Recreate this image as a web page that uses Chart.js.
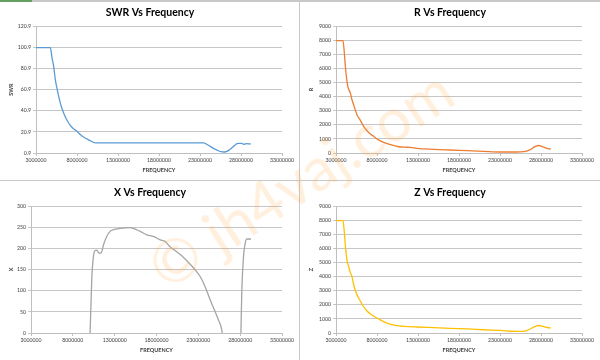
<!DOCTYPE html>
<html><head><meta charset="utf-8">
<script src="https://cdn.jsdelivr.net/npm/chart.js@4.4.0/dist/chart.umd.min.js"></script>
<style>
html,body{margin:0;padding:0;background:#fff;}
#wrap{position:relative;width:600px;height:360px;overflow:hidden;background:#fff;}
.panel{position:absolute;width:300px;height:180px;}
.panel canvas{display:block;}
.ln{position:absolute;background:#c8c8c8;}
#wm{position:absolute;left:300px;top:178px;transform:translate(-50%,-50%) rotate(-33deg);font:60px Lato, "Liberation Sans", sans-serif;color:rgba(255,160,50,0.17);white-space:nowrap;pointer-events:none;}
</style></head><body>
<div id="wrap">
  <div class="panel" style="left:0;top:0"><canvas id="cSwr" width="300" height="180"></canvas></div>
  <div class="panel" style="left:300px;top:0"><canvas id="cR" width="300" height="180"></canvas></div>
  <div class="panel" style="left:0;top:180px"><canvas id="cX" width="300" height="180"></canvas></div>
  <div class="panel" style="left:300px;top:180px"><canvas id="cZ" width="300" height="180"></canvas></div>
  <div class="ln" style="left:0;top:0;width:600px;height:2px"></div>
  <div style="position:absolute;left:0;top:0;width:32px;height:2px;background:#62a060"></div>
  <div class="ln" style="left:299px;top:0;width:1px;height:360px"></div>
  <div class="ln" style="left:0;top:180px;width:600px;height:1px"></div>
  <div id="wm">© jh4vaj.com</div>
</div>
<script>
// ---- data (frequency in MHz) ----
const xTickValues = [3000000, 8000000, 13000000, 18000000, 23000000, 28000000, 33000000];
const xTickLabels = ['3000000','8000000','13000000','18000000','23000000','28000000','33000000'];

const swrTickValues = [0.9, 20.9, 40.9, 60.9, 80.9, 100.9, 120.9];
const swrTickLabels = ['0.9','20.9','40.9','60.9','80.9','100.9','120.9'];
const rzTickValues = [0,1000,2000,3000,4000,5000,6000,7000,8000,9000];
const rzTickLabels = ['0','1000','2000','3000','4000','5000','6000','7000','8000','9000'];
const xrTickValues = [0,50,100,150,200,250,300];
const xrTickLabels = ['0','50','100','150','200','250','300'];

const swrFreqMHz = [3.0,3.5,4.0,4.5,4.75,4.95,5.15,5.36,5.56,5.76,5.97,6.17,6.37,6.78,7.2,7.6,8.0,8.4,8.8,9.2,9.6,10.0,10.2,11,13,15,17,19,21,23,23.45,23.8,24.2,24.7,25.3,25.6,25.9,26.2,26.5,26.8,27.1,27.5,27.8,28.1,28.3,28.5,28.7,29.0,29.2];
const swrValues  = [100.5,100.5,100.5,100.5,100.4,91,83,70,62,54.6,48,43,38.8,31.8,26.8,23.6,21.4,18.3,16,14.2,12.6,11,10.4,10.4,10.4,10.4,10.4,10.4,10.4,10.4,10.4,9.2,7.4,5,2.8,2.1,1.85,2.3,3.4,5.2,7.2,9.7,10,10,9.1,9.4,9.7,9.5,9.4];

const rFreqMHz = [3.0,3.5,3.85,4.02,4.14,4.34,4.46,4.75,4.95,5.15,5.56,5.97,6.37,6.78,7.19,7.6,8.0,8.8,9.63,10.44,10.85,11.5,12.07,12.88,14.9,16.9,19.0,21.0,23.0,25.0,25.9,26.3,26.7,27.1,27.4,27.7,28.1,28.4,28.7,29.2];
const rValues  = [7960,7960,7960,7070,6130,5070,4670,4240,3770,3420,2710,2310,1885,1580,1345,1180,990,754,590,471,424,410,400,330,260,212,165,118,71,71,94,150,236,400,490,530,471,400,330,283];

const zFreqMHz = [3.0,3.5,3.85,4.02,4.14,4.34,4.54,4.75,4.95,5.15,5.56,5.97,6.37,6.78,7.19,7.6,8.0,9.2,10.44,11.3,12.9,14.9,16.9,19.0,21.0,23.0,25.0,25.9,26.3,26.7,27.1,27.4,27.7,28.3,28.8,29.2];
const zValues  = [7960,7960,7960,7100,6200,5150,4710,4280,4005,3420,2710,2260,1860,1560,1350,1190,1060,707,518,471,424,377,330,290,230,180,118,118,180,283,420,490,530,447,390,353];

const xFreqMHz = [3.0,6.0,9.0,9.9,10.06,10.26,10.46,10.66,10.86,11.06,11.26,11.46,11.66,12.05,12.45,12.85,13.65,14.85,15.25,16.04,16.84,17.64,18.44,19.04,19.6,20.4,21.2,22.0,22.8,23.2,23.8,24.4,25.0,25.4,25.7,25.86,26.2,26.6,27.0,27.5,27.9,28.09,28.2,28.4,28.6,28.8,29.3];
const xValues  = [-1500,-900,-400,-150,0,126,181,195,196,190,188,192,208,228,240,244,247,249,247,240,232,228,220,216,204,192,179,163,145,134,110,79,51,31,16,0,-60,-160,-280,-350,-150,0,102,181,212,222,222];

const FONT = 'Lato, "Liberation Sans", sans-serif';

function makeChart(id, o) {
  const pts = o.freq.map((f, i) => ({ x: f * 1e6, y: o.vals[i] }));
  new Chart(document.getElementById(id), {
    type: 'line',
    data: { datasets: [{ data: pts, borderColor: o.color, borderWidth: 1.3, pointRadius: 0,
      fill: false, cubicInterpolationMode: 'monotone' }] },
    options: {
      responsive: false, animation: false, devicePixelRatio: 1,
      layout: { padding: 0 },
      plugins: {
        legend: { display: false }, tooltip: { enabled: false },
        title: { display: true, text: o.title, color: '#000',
          font: { family: FONT, size: 10.5, weight: 'bold', lineHeight: 1.2 },
          padding: { top: 6, bottom: 7.4 } }
      },
      scales: {
        x: {
          type: 'linear', min: 3000000, max: 33000000,
          afterBuildTicks: s => { s.ticks = xTickValues.map(v => ({ value: v })); },
          afterFit: s => { s.height = 27; s.paddingLeft = 0; s.paddingRight = 18; },
          ticks: { callback: (v, i) => xTickLabels[i], font: { family: FONT, size: 5.2 }, color: '#404040',
            padding: 1, maxRotation: 0, autoSkip: false },
          grid: { display: true, drawOnChartArea: false, drawTicks: true, tickLength: 3, color: '#bfbfbf' },
          border: { display: true, color: '#bfbfbf' },
          title: { display: true, text: 'FREQUENCY', color: '#404040',
            font: { family: FONT, size: 5.5, weight: 'bold', lineHeight: 1.2 }, padding: { top: 0, bottom: 6.4 } }
        },
        y: {
          type: 'linear', min: o.min, max: o.max,
          afterBuildTicks: s => { s.ticks = o.tickValues.map(v => ({ value: v })); },
          afterFit: s => { s.width = o.axisW; },
          ticks: { callback: (v, i) => o.tickLabels[i], font: { family: FONT, size: 5.2 }, color: '#404040', padding: 2, autoSkip: false },
          grid: { color: '#c6c6c6', tickLength: 3 },
          border: { display: true, color: '#bfbfbf' },
          title: { display: true, text: o.ytitle, color: '#404040',
            font: { family: FONT, size: 5.5, weight: 'bold', lineHeight: 1.2 }, padding: { top: 7.7, bottom: 0 } }
        }
      }
    }
  });
}

makeChart('cSwr', { title: 'SWR Vs Frequency', ytitle: 'SWR', freq: swrFreqMHz, vals: swrValues, color: '#5b9bd5',
  min: 0.9, max: 120.9, tickValues: swrTickValues, tickLabels: swrTickLabels, axisW: 36 });
makeChart('cR', { title: 'R Vs Frequency', ytitle: 'R', freq: rFreqMHz, vals: rValues, color: '#ed7d31',
  min: 0, max: 9000, tickValues: rzTickValues, tickLabels: rzTickLabels, axisW: 36 });
makeChart('cX', { title: 'X Vs Frequency', ytitle: 'X', freq: xFreqMHz, vals: xValues, color: '#a5a5a5',
  min: 0, max: 300, tickValues: xrTickValues, tickLabels: xrTickLabels, axisW: 31 });
makeChart('cZ', { title: 'Z Vs Frequency', ytitle: 'Z', freq: zFreqMHz, vals: zValues, color: '#ffc000',
  min: 0, max: 9000, tickValues: rzTickValues, tickLabels: rzTickLabels, axisW: 36 });
</script>
</body></html>
